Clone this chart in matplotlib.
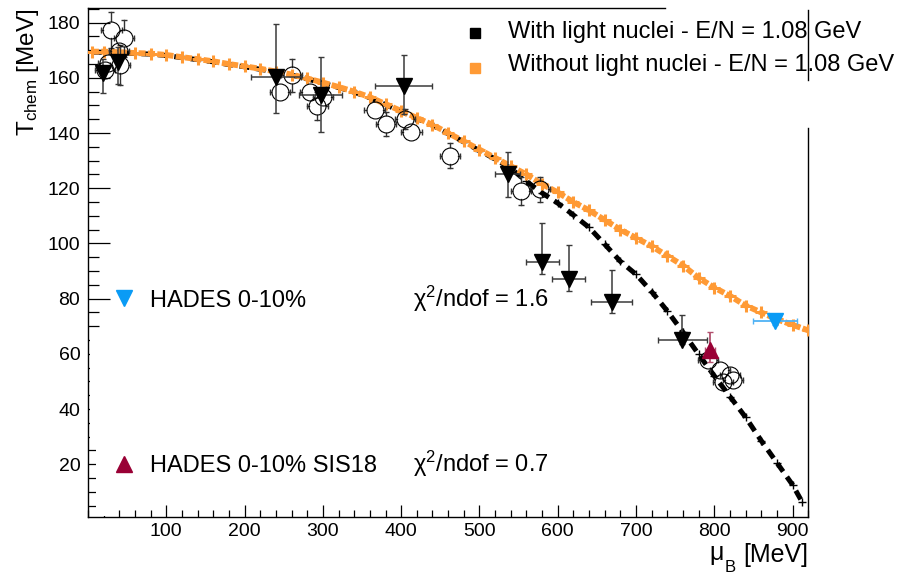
import matplotlib
matplotlib.use("Agg")
import matplotlib.pyplot as plt
from matplotlib.lines import Line2D
from matplotlib.patches import Rectangle
from matplotlib.ticker import MultipleLocator, FixedLocator

plt.rcParams["font.family"] = ["Liberation Sans", "DejaVu Sans"]
plt.rcParams["mathtext.fontset"] = "custom"
plt.rcParams["mathtext.rm"] = "Liberation Sans"
plt.rcParams["mathtext.it"] = "Liberation Sans:italic"

# freeze-out curve without light nuclei
mu_orange = [5, 20, 40, 60, 80, 100, 120, 140, 160, 180, 200, 220, 240, 260, 280, 300,
             320, 340, 360, 380, 400, 420, 440, 460, 480, 500, 520, 540, 560, 580, 600,
             620, 640, 660, 680, 700, 720, 740, 760, 780, 800, 820, 840, 860, 880, 900, 920]
T_orange = [169.5, 169.5, 169.3, 169.0, 168.8, 168.3, 167.5, 166.8, 166.0, 165.0, 164.2,
            163.3, 162.3, 161.2, 159.8, 158.3, 156.7, 155.0, 153.0, 150.5, 148.0, 145.5,
            143.0, 140.0, 137.0, 134.0, 131.0, 128.0, 125.0, 121.5, 118.5, 115.0, 112.0,
            108.5, 105.0, 102.0, 99.0, 95.5, 92.0, 87.5, 84.0, 81.0, 77.5, 75.0, 72.5,
            70.5, 68.5]

# freeze-out curve with light nuclei
mu_black = [5, 20, 40, 60, 80, 100, 120, 140, 160, 180, 200, 220, 240, 260, 280, 300,
            320, 340, 360, 380, 400, 420, 440, 460, 480, 500, 520, 540, 560, 580, 600,
            620, 640, 660, 680, 700, 720, 740, 760, 780, 800, 820, 840, 860, 880, 900, 912]
T_black = [169.3, 169.3, 169.1, 168.8, 168.6, 168.1, 167.3, 166.6, 165.8, 164.8, 164.0,
           163.1, 162.1, 161.0, 159.6, 158.1, 156.5, 154.8, 152.8, 150.3, 147.8, 145.3,
           142.8, 139.8, 136.8, 133.6, 130.6, 127.2, 122.5, 118.3, 114.6, 110.3, 105.8,
           99.7, 93.5, 88.8, 82.5, 75.5, 67.8, 59.8, 52.0, 44.5, 37.0, 28.5, 20.5, 12.5, 6.4]

# open circles: world data
circ_mu = [30, 46, 40, 26, 41, 22, 245, 260, 284, 293, 300, 366, 381, 405, 413, 462,
           553, 577, 792, 807, 820, 811, 824]
circ_T = [177.4, 174.3, 169.8, 165.3, 164.7, 162.9, 155.0, 161.0, 155.0, 149.8, 153.2,
          148.2, 143.3, 145.1, 140.3, 131.8, 119.1, 119.7, 57.8, 54.2, 52.4, 49.9, 50.5]
circ_dT = [6.6, 6.7, 3.0, 3.0, 7.3, 3.0, 3.0, 6.0, 3.0, 5.0, 3.0, 3.0, 4.5, 3.5, 2.5,
           4.5, 5.0, 4.5, 3.0, 2.5, 2.5, 2.5, 2.5]
circ_dmu = [13] * len(circ_mu)

# filled down triangles
tri_mu = [19, 38, 240, 297, 403, 536, 580, 614, 669, 759]
tri_T = [161.7, 165.9, 160.4, 153.8, 157.0, 125.1, 93.2, 87.0, 78.7, 65.1]
tri_dmu = [0, 0, 32, 27, 37, 16, 21, 21, 26, 31]
tri_dT_lo = [7.3, 8.0, 13.2, 13.3, 10.0, 8.4, 4.3, 4.3, 3.9, 1.5]
tri_dT_hi = [5.0, 5.4, 19.1, 13.7, 11.2, 7.9, 14.1, 12.3, 11.6, 9.1]

# HADES points
hades_mu, hades_T, hades_dmu, hades_dT = [877], [72.0], [28], [1.5]
sis_mu, sis_T, sis_dmu = [794.5], [61.4], [6]
sis_dT_lo, sis_dT_hi = [4.2], [6.4]

ORANGE = "#ff9a35"
BLUE = "#0a9bf5"
CRIMSON = "#990035"

W, H = 897, 573
fig = plt.figure(figsize=(W / 100, H / 100), dpi=100)
ax = fig.add_axes([88 / W, 1 - 516.7 / H, (808.3 - 88) / W, (516.7 - 8.3) / H])


def fx(x):
    return x / W


def fy(y):
    return 1 - y / H


# model curves
ax.plot(mu_black, T_black, color="black", lw=3.6, ls=(0, (2, 1.3)), zorder=2)
ax.plot(mu_black, T_black, ls="none", marker="+", ms=5.5, mew=1, color="black", zorder=2)
ax.plot(mu_orange, T_orange, color=ORANGE, lw=4.2, ls=(0, (1.2, 0.4)), zorder=3)
ax.plot(mu_orange, T_orange, ls="none", marker="+", ms=8, mew=2.2, color=ORANGE, zorder=3)

# open circles: error bars start at the marker edge, as in ROOT
r_mu, r_T = 10.9, 3.1
ecap = dict(color="#333333", lw=1, zorder=4)
for m, t, dm, dt in zip(circ_mu, circ_T, circ_dmu, circ_dT):
    if dt > r_T:
        for sgn in (1, -1):
            ax.plot([m, m], [t + sgn * r_T, t + sgn * dt], **ecap)
            ax.plot([m], [t + sgn * dt], marker="_", ms=4.4, mew=1, color="#333333",
                    zorder=4)
    if dm > r_mu:
        for sgn in (1, -1):
            ax.plot([m + sgn * r_mu, m + sgn * dm], [t, t], **ecap)
            ax.plot([m + sgn * dm], [t], marker="|", ms=4.4, mew=1, color="#333333",
                    zorder=4)
ax.plot(circ_mu, circ_T, ls="none", marker="o", ms=12.2, mfc="none", mec="black",
        mew=0.8, zorder=4)

ax.errorbar(tri_mu, tri_T, xerr=tri_dmu, yerr=[tri_dT_lo, tri_dT_hi], fmt="v", ms=11,
            color="black", ecolor="#3a3a3a", elinewidth=1.1, capsize=2.2, zorder=5)
ax.errorbar(hades_mu, hades_T, xerr=hades_dmu, yerr=hades_dT, fmt="v", ms=11,
            color=BLUE, ecolor="#4fb2f5", elinewidth=1.3, capsize=2.2, zorder=5)
ax.errorbar(sis_mu, sis_T, xerr=sis_dmu, yerr=[sis_dT_lo, sis_dT_hi], fmt="^", ms=11,
            color=CRIMSON, ecolor="#b2506e", elinewidth=1.3, capsize=2.2, zorder=5)

ax.set_xlim(0, 920)
ax.set_ylim(1, 185.2)
ax.xaxis.set_major_locator(FixedLocator(range(100, 1000, 100)))
ax.xaxis.set_minor_locator(MultipleLocator(20))
ax.yaxis.set_major_locator(FixedLocator(range(20, 200, 20)))
ax.yaxis.set_minor_locator(MultipleLocator(5))
ax.tick_params(which="both", direction="in", top=False, right=False, width=0.9,
               labelsize=14, colors="black")
ax.tick_params(axis="y", which="major", length=15.8, pad=5.5)
ax.tick_params(axis="y", which="minor", length=7.9)
ax.tick_params(axis="x", which="major", length=8.6, pad=4.5)
ax.tick_params(axis="x", which="minor", length=4.7)

for s in ax.spines.values():
    s.set_linewidth(1.0)
ax.spines["top"].set_visible(False)
ax.spines["right"].set_bounds(1, 141.8)

# frame pieces around the legend box
fig.add_artist(Line2D([fx(88), fx(665)], [fy(8.3), fy(8.3)], color="black", lw=1.0))

# white boxes behind the HADES entries hide part of the y ticks
fig.add_artist(Rectangle((fx(89.6), fy(445)), fx(300), 110 / H, facecolor="white",
                         edgecolor="none", zorder=1))
fig.add_artist(Rectangle((fx(95.5), fy(516)), fx(20), 71 / H, facecolor="white",
                         edgecolor="none", zorder=1))

# axis titles
fig.text(fx(808), fy(562), "[MeV]", ha="right", va="baseline", fontsize=18)
fig.text(fx(709), fy(560), "μ", ha="left", va="baseline", fontsize=18)
fig.text(fx(725), fy(571.5), "B", ha="left", va="baseline", fontsize=12)
fig.text(fx(28), fy(8), r"T$_{\mathrm{chem}}$ [MeV]", rotation=90, ha="center", va="top",
         fontsize=17.5)

# legend
fig.add_artist(Line2D([fx(475)], [fy(32.5)], marker="s", ms=7.5, color="black", ls="none"))
fig.add_artist(Line2D([fx(475)], [fy(67.5)], marker="s", ms=7.5, color=ORANGE, ls="none"))
fig.text(fx(508), fy(38.3), "With light nuclei - E/N = 1.08 GeV", fontsize=17,
         va="baseline")
fig.text(fx(508), fy(71), "Without light nuclei - E/N = 1.08 GeV", fontsize=17,
         va="baseline")
fig.add_artist(Line2D([fx(808.3), fx(808.3)], [fy(10), fy(80)], color="black", lw=1.0,
                      zorder=5))

# HADES entries
fig.add_artist(Line2D([fx(124)], [fy(298)], marker="v", ms=11, color=BLUE, ls="none"))
fig.text(fx(150), fy(306.7), "HADES 0-10%", fontsize=17, va="baseline")
fig.text(fx(413), fy(306.7), r"χ$^{2}$/ndof = 1.6", fontsize=17, va="baseline")
fig.add_artist(Line2D([fx(124)], [fy(464)], marker="^", ms=11, color=CRIMSON, ls="none"))
fig.text(fx(150), fy(471.7), "HADES 0-10% SIS18", fontsize=17, va="baseline")
fig.text(fx(413), fy(471.7), r"χ$^{2}$/ndof = 0.7", fontsize=17, va="baseline")

fig.savefig("out.png", dpi=100)
